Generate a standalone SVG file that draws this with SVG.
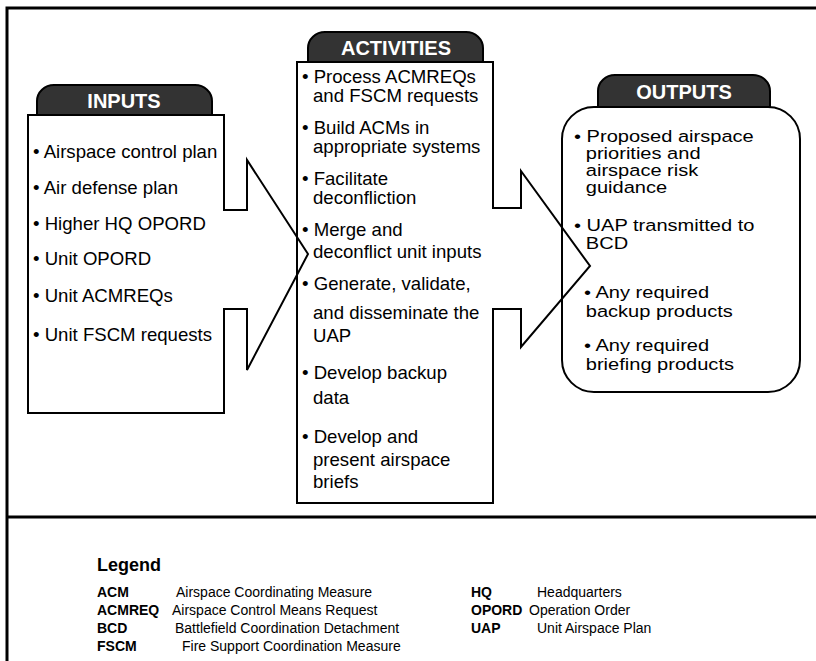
<svg xmlns="http://www.w3.org/2000/svg" width="816" height="661" viewBox="0 0 816 661">
<style>
.t{font-family:"Liberation Sans",Arial,sans-serif;font-size:18.6px;fill:#000}
.o{font-family:"Liberation Sans",Arial,sans-serif;font-size:17px;fill:#000}
.h{font-family:"Liberation Sans",Arial,sans-serif;font-size:20px;font-weight:bold;fill:#fff;text-anchor:middle}
.tab{fill:#333;stroke:#000;stroke-width:2}
.box{fill:none;stroke:#000;stroke-width:2;stroke-linejoin:miter}
.frame{stroke:#000;stroke-width:3;fill:none}
.lg{font-family:"Liberation Sans",Arial,sans-serif;font-size:14px;fill:#000}
.lb{font-family:"Liberation Sans",Arial,sans-serif;font-size:14px;font-weight:bold;fill:#000}
</style>
<rect width="816" height="661" fill="#fff"/>
<g id="frame">
<path class="frame" d="M7,661 V8 H816"/>
<line class="frame" x1="7" y1="517" x2="816" y2="517"/>
</g>
<g id="inputs">
<path class="tab" d="M37,115 V101 A17,16 0 0 1 54,85 H195 A17,16 0 0 1 212,101 V115 Z"/>
<text class="h" x="124" y="108">INPUTS</text>
<path class="box" fill="#fff" d="M28,115 H224 V210 H247 V160 L308,254 L247,370 V309 H224 V413 H28 Z"/>
<text class="t" x="33" y="158">• Airspace control plan</text>
<text class="t" x="33" y="194">• Air defense plan</text>
<text class="t" x="33" y="230">• Higher HQ OPORD</text>
<text class="t" x="33" y="265">• Unit OPORD</text>
<text class="t" x="33" y="302">• Unit ACMREQs</text>
<text class="t" x="33" y="341">• Unit FSCM requests</text>
</g>
<g id="activities">
<path class="tab" d="M308,62 V48 A17,16 0 0 1 325,32 H466 A17,16 0 0 1 483,48 V62 Z"/>
<text class="h" x="396" y="55">ACTIVITIES</text>
<path class="box" d="M297,62 H493 V208 H521 V171 L590,266 L521,347 V309 H493 V503 H297 Z"/>
<text class="t" x="302" y="83">• Process ACMREQs</text>
<text class="t" x="313" y="102">and FSCM requests</text>
<text class="t" x="302" y="134">• Build ACMs in</text>
<text class="t" x="313" y="153">appropriate systems</text>
<text class="t" x="302" y="185">• Facilitate</text>
<text class="t" x="313" y="204">deconfliction</text>
<text class="t" x="302" y="236">• Merge and</text>
<text class="t" x="313" y="258">deconflict unit inputs</text>
<text class="t" x="302" y="290">• Generate, validate,</text>
<text class="t" x="313" y="319">and disseminate the</text>
<text class="t" x="313" y="342">UAP</text>
<text class="t" x="302" y="379">• Develop backup</text>
<text class="t" x="313" y="404">data</text>
<text class="t" x="302" y="443">• Develop and</text>
<text class="t" x="313" y="466">present airspace</text>
<text class="t" x="313" y="488">briefs</text>
</g>
<g id="outputs">
<path class="tab" d="M598,107 V91 A17,16 0 0 1 615,75 H753 A17,16 0 0 1 770,91 V107 Z"/>
<text class="h" x="684" y="99">OUTPUTS</text>
<rect class="box" x="562" y="107" width="238" height="285" rx="32" ry="32"/>
<g transform="translate(574,0) scale(1.18,1)">
<text class="o" x="0" y="142">• Proposed airspace</text>
<text class="o" x="10" y="159">priorities and</text>
<text class="o" x="10" y="176">airspace risk</text>
<text class="o" x="10" y="193">guidance</text>
<text class="o" x="0" y="231">• UAP transmitted to</text>
<text class="o" x="10" y="249">BCD</text>
<text class="o" x="8.5" y="298">• Any required</text>
<text class="o" x="10" y="317">backup products</text>
<text class="o" x="8.5" y="351">• Any required</text>
<text class="o" x="10" y="370">briefing products</text>
</g>
</g>
<g id="legend">
<text class="lb" x="97" y="571" style="font-size:18px">Legend</text>
<text class="lb" x="97" y="597">ACM</text>
<text class="lg" x="176" y="597">Airspace Coordinating Measure</text>
<text class="lb" x="97" y="615">ACMREQ</text>
<text class="lg" x="172" y="615">Airspace Control Means Request</text>
<text class="lb" x="97" y="633">BCD</text>
<text class="lg" x="175" y="633">Battlefield Coordination Detachment</text>
<text class="lb" x="97" y="651">FSCM</text>
<text class="lg" x="182" y="651">Fire Support Coordination Measure</text>
<text class="lb" x="471" y="597">HQ</text>
<text class="lg" x="537" y="597">Headquarters</text>
<text class="lb" x="471" y="615">OPORD</text>
<text class="lg" x="529" y="615">Operation Order</text>
<text class="lb" x="471" y="633">UAP</text>
<text class="lg" x="537" y="633">Unit Airspace Plan</text>
</g>
</svg>
